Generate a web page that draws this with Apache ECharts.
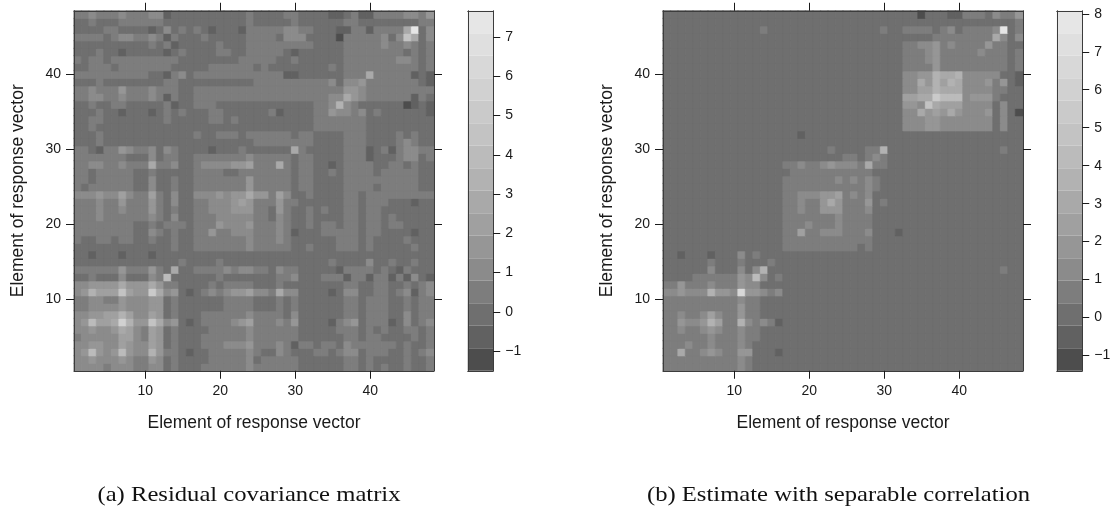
<!DOCTYPE html>
<html><head><meta charset="utf-8">
<style>html,body{margin:0;padding:0;background:#fff}#c{width:1120px;height:513px}</style>
<script src="https://cdn.jsdelivr.net/npm/echarts@6/dist/echarts.min.js"></script>
</head><body><div id="c"></div>
<script>
const g = n => "2".repeat(n), t = n => "3".repeat(n);
const categories = Array.from({length:48},(_,i)=>String(i+1));
const greys = ["#4d4d4d","#616161","#6f6f6f","#7d7d7d","#8b8b8b","#969696","#a0a0a0","#a9a9a9","#b2b2b2","#bbbbbb","#c3c3c3","#cacaca","#d1d1d1","#d8d8d8","#dfdfdf","#e6e6e6"];
const keyRangeA = [-1.5, 7.67], keyRangeB = [-1.4, 8.08];
const keyTicksA = [-1,0,1,2,3,4,5,6,7], keyTicksB = [-1,0,1,2,3,4,5,6,7,8];
// band index of each cell, row 1 (bottom) upward, lower triangle; the matrices are symmetric
const rowsA = [
"4","44","459","4455","34444","445445","459667c","44556686","334444544","3344335444","458666a655b","445555755575",
"2232224222439","33333353335327","222222222222223","2212221222122222","22222222222223223","322332332232232233",
"3333333322432322335","33333333223233323335","333433333343242233344","3334334333532322334445","33343353335324223344456","444544643363242244454557",
"3233333322422322333333353","33233333224223223333333533","332333332232222233332233333","3344334333733422344445563337",
"33333332224233223333333433333","332133543342432222122232222227",
"2223"+g(20)+"3333333",
"2223"+g(12)+"3"+"22"+"333"+"2"+"333333"+"2"+"33",
"223"+g(29)+"3",
"2233"+g(8)+"3"+g(5)+"33"+"2"+"3"+g(10)+"33",
"2223"+"22"+"1"+"222"+"1"+"2"+"3"+"2"+"3"+"222"+"33"+"222222"+"3"+"1"+"2222"+"33"+"5",
"22"+"3"+"22"+"33"+"22222"+"3"+"1"+"22"+"33"+"3"+g(13)+"33"+"4"+"8",
"3344"+"33"+"4"+"333"+"4"+"3"+"1"+"3"+"22"+t(16)+"33"+"44"+"7",
"33"+"4"+"333"+"5"+"333"+"4"+"333"+"22"+t(16)+"333"+"3"+"5"+"5",
"222"+"3"+g(8)+"33"+g(10)+t(8)+"33"+"4"+"2"+"4"+"4"+"5",
t(10)+"2"+"2"+"1"+"3"+"4"+"2"+t(12)+"11"+g(6)+"333"+"7",
"22333"+"2"+t(7)+g(5)+t(6)+"2"+"3"+g(8)+"3"+"2"+"33"+"3"+"3"+"3",
"3"+"2"+"33"+"2"+"333"+t(6)+g(6)+"22"+"33333"+"22"+"3"+g(6)+t(6),
"222"+"3"+"22"+"1"+g(5)+"1"+"2"+"3"+g(4)+"33"+"22"+t(5)+"2"+"1"+g(6)+t(7),
g(10)+"3"+"2"+"3"+"1"+g(5)+"3"+"222"+t(9)+"2222"+t(5)+"4"+"3"+"3",
"3333"+"2"+"3"+"44"+"33"+"4"+"3"+"1"+"3"+"222"+"3"+g(5)+"3333"+"2"+"444"+"2222"+"0"+t(5)+"4"+"2"+"4"+"a",
"2222"+"33"+"2222"+"1"+"2"+"4"+"2"+"3"+"2"+"3"+"2"+"1"+"222"+"1"+t(5)+"44"+"33"+"222"+"11"+"33"+"1"+"3333"+"7"+"f",
"22"+"3"+"222"+t(6)+g(11)+"3"+g(5)+"3"+g(6)+"33"+g(8)+"3",
"33"+"4"+"333"+"4"+"333"+"44"+"1"+g(10)+"3"+"2222"+"33"+"2222"+"11"+"2"+"3"+"11"+"3333"+"4"+"4"+"3"+"5"
];
const rowsB = [
"3","33","337","3334","33333","334334","3354458","33433464","333333333","3333333333","4454448554d","335333433354",
"2222333333549","22222242224248","222222322232223","2212221222423222",
g(16)+"3",g(16)+"33",g(16)+"336",g(16)+"3334",g(16)+"33333",g(16)+"334335",g(16)+"3343357",g(16)+"33444556",
g(16)+"333333333",g(16)+"3333333434",g(16)+"23333333333",g(16)+"334334544437",g(16)+"2222222233234",g(16)+"22222232222338",
g(31),g(18)+"1"+g(13),
g(32)+"4445544444442422",g(32)+"4445544444442422",g(32)+"4475657544452420",g(32)+"554a766644442422",
g(32)+"6677b99945553222",g(32)+"4466877744443322",g(32)+"4475868744453521",g(32)+"4455877844444221",
g(32)+"333353333",g(32)+"3334533333",g(32)+"33345333334",g(32)+"334453433335",g(32)+"2222333333337",
g(13)+"3"+g(15)+"3"+"22"+"3333234233334f",
g(32)+"222222222222222",
g(32)+"2202221133324335"
];
function expand(rows, range){
  const step=(range[1]-range[0])/16, M=[];
  for(let i=0;i<48;i++)M.push(new Array(48).fill(null));
  rows.forEach((s,i)=>{for(let j=0;j<s.length&&j<48;j++)M[i][j]=parseInt(s[j],16);});
  rows.forEach((s,i)=>{for(let j=0;j<s.length&&j<48;j++)if(M[j][i]===null)M[j][i]=M[i][j];});
  const out=[];
  for(let i=0;i<48;i++)for(let j=0;j<48;j++){const L=M[i][j]===null?2:M[i][j];
    out.push({value:[j,i,+(range[0]+(L+.5)*step).toFixed(3)],itemStyle:{borderColor:greys[L],borderWidth:0.6}});}
  return out;
}
function pieces(range){const step=(range[1]-range[0])/16;return greys.map((c,i)=>({gte:range[0]+i*step,lt:range[0]+(i+1)*step,color:c}));}
function bands(range){const step=(range[1]-range[0])/16;return greys.map((c,i)=>[range[0]+i*step,range[0]+(i+1)*step,i]);}

const TXT="#1a1a1a", AX="#3c3c3c", FONT="'Liberation Sans'", FS=14, NFS=17.5, NAME="Element of response vector";
const PW=360, TOP=10.75;
const grids=[],xAxes=[],yAxes=[],series=[],vms=[];
function panel(left,keyLeft,rows,range,ticks){
  const gi=grids.length;
  grids.push({left:left,top:TOP,width:PW,height:PW,containLabel:false});
  const line={show:true,onZero:false,lineStyle:{color:AX,width:1}};
  const every=(i)=>(i+1)%10===0;
  const tick={show:true,alignWithLabel:true,length:8,interval:every,lineStyle:{color:TXT,width:1}};
  const xb=xAxes.length;
  xAxes.push({gridIndex:gi,type:"category",data:categories,position:"bottom",z:5,axisLine:line,axisTick:tick,
    axisLabel:{interval:every,color:TXT,fontFamily:FONT,fontSize:FS,margin:13},
    name:NAME,nameLocation:"middle",nameGap:43,nameTextStyle:{color:TXT,fontFamily:FONT,fontSize:NFS},splitLine:{show:false}});
  xAxes.push({gridIndex:gi,type:"category",data:categories,position:"top",z:5,axisLine:line,axisTick:tick,axisLabel:{show:false},splitLine:{show:false}});
  const yl=yAxes.length;
  yAxes.push({gridIndex:gi,type:"category",data:categories,position:"left",z:5,axisLine:line,axisTick:tick,
    axisLabel:{interval:every,color:TXT,fontFamily:FONT,fontSize:FS,margin:13},
    name:NAME,nameLocation:"middle",nameGap:47,nameTextStyle:{color:TXT,fontFamily:FONT,fontSize:NFS},splitLine:{show:false}});
  yAxes.push({gridIndex:gi,type:"category",data:categories,position:"right",z:5,axisLine:line,axisTick:tick,axisLabel:{show:false},splitLine:{show:false}});
  const si=series.length;
  series.push({type:"heatmap",xAxisIndex:xb,yAxisIndex:yl,data:expand(rows,range),progressive:0,animation:false,emphasis:{disabled:true}});
  vms.push({type:"piecewise",show:false,dimension:2,seriesIndex:si,pieces:pieces(range)});
  // colour key
  const ki=grids.length;
  grids.push({left:keyLeft,top:TOP,width:25.5,height:PW});
  const kx=xAxes.length;
  const kline={show:true,onZero:false,lineStyle:{color:AX,width:1}};
  xAxes.push({gridIndex:ki,type:"value",min:0,max:1,position:"bottom",z:5,axisLine:kline,axisTick:{show:false},axisLabel:{show:false},splitLine:{show:false}});
  xAxes.push({gridIndex:ki,type:"value",min:0,max:1,position:"top",z:5,axisLine:kline,axisTick:{show:false},axisLabel:{show:false},splitLine:{show:false}});
  const ky=yAxes.length;
  yAxes.push({gridIndex:ki,type:"value",min:range[0],max:range[1],position:"right",z:5,axisLine:kline,
    axisTick:{show:true,length:7,customValues:ticks,lineStyle:{color:TXT,width:1}},
    axisLabel:{customValues:ticks,color:TXT,fontFamily:FONT,fontSize:FS,margin:12,formatter:v=>String(v).replace("-","\u2212")},splitLine:{show:false}});
  yAxes.push({gridIndex:ki,type:"value",min:range[0],max:range[1],position:"left",z:5,axisLine:kline,axisTick:{show:false},axisLabel:{show:false},splitLine:{show:false}});
  series.push({type:"custom",xAxisIndex:kx,yAxisIndex:ky,data:bands(range),animation:false,silent:true,clip:false,
    renderItem:(p,api)=>{const a=api.coord([0,api.value(0)]),b=api.coord([1,api.value(1)]);
      return {type:"rect",shape:{x:a[0],y:b[1],width:b[0]-a[0],height:a[1]-b[1]},style:{fill:greys[api.value(2)]}};}});
}
panel(74,467.75,rowsA,keyRangeA,keyTicksA);
panel(663,1056.75,rowsB,keyRangeB,keyTicksB);
const captions=[["(a) Residual covariance matrix",249],["(b) Estimate with separable correlation",838.5]];
const chart=echarts.init(document.getElementById("c"),null,{renderer:"canvas"});
chart.setOption({animation:false,backgroundColor:"#fff",grid:grids,xAxis:xAxes,yAxis:yAxes,visualMap:vms,series:series,
  graphic:captions.map(c=>({type:"text",x:c[1],y:495,scaleX:1.12,style:{text:c[0],fill:"#111",font:"22px 'Liberation Serif'",textAlign:"center",textVerticalAlign:"middle"}}))});
</script></body></html>
